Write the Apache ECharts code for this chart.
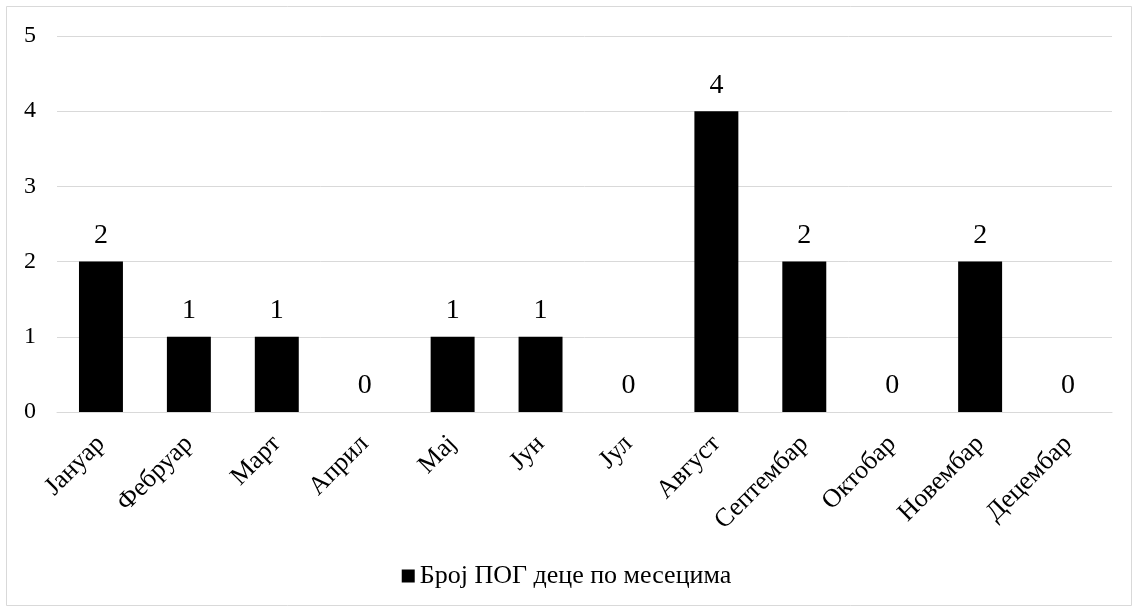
<!DOCTYPE html>
<html><head><meta charset="utf-8">
<script src="https://cdn.jsdelivr.net/npm/echarts@6/dist/echarts.min.js"></script>
<style>html,body{margin:0;padding:0;background:#fff}#c{width:1133px;height:607px}</style>
</head><body><div id="c"></div>
<script>
const categories = ["Јануар","Фебруар","Март","Април","Мај","Јун","Јул","Август","Септембар","Октобар","Новембар","Децембар"];
const values = [2,1,1,0,1,1,0,4,2,0,2,0];
const seriesName = "Број ПОГ деце по месецима";
const yTicks = {min:0, max:5, interval:1};
const font = "'Liberation Serif','Times New Roman',serif";
const chart = echarts.init(document.getElementById('c'));
chart.setOption({
  animation:false,
  backgroundColor:'#fff',
  graphic:[{type:'rect',shape:{x:6.5,y:6.5,width:1125,height:599},style:{fill:'none',stroke:'#d9d9d9',lineWidth:1},silent:true}],
  grid:{left:57,right:21,top:36,bottom:195,containLabel:false},
  legend:{top:558,left:'center',itemWidth:13,itemHeight:13,icon:'rect',itemGap:6,
    textStyle:{fontFamily:font,fontSize:26,color:'#000'},data:[seriesName]},
  xAxis:{type:'category',data:categories,
    axisLine:{show:true,lineStyle:{color:'#d9d9d9',width:1}},
    axisTick:{show:false},
    axisLabel:{rotate:45,interval:0,margin:28,fontFamily:font,fontSize:26,color:'#000'}},
  yAxis:{type:'value',min:yTicks.min,max:yTicks.max,interval:yTicks.interval,
    axisLine:{show:false},axisTick:{show:false},
    splitLine:{lineStyle:{color:'#d9d9d9',width:1}},
    axisLabel:{margin:21,fontFamily:font,fontSize:24,color:'#000'}},
  series:[{name:seriesName,type:'bar',data:values,barWidth:'50%',
    itemStyle:{color:'#000'},
    label:{show:true,position:'top',distance:12,fontFamily:font,fontSize:28,color:'#000'}}]
});
</script></body></html>
